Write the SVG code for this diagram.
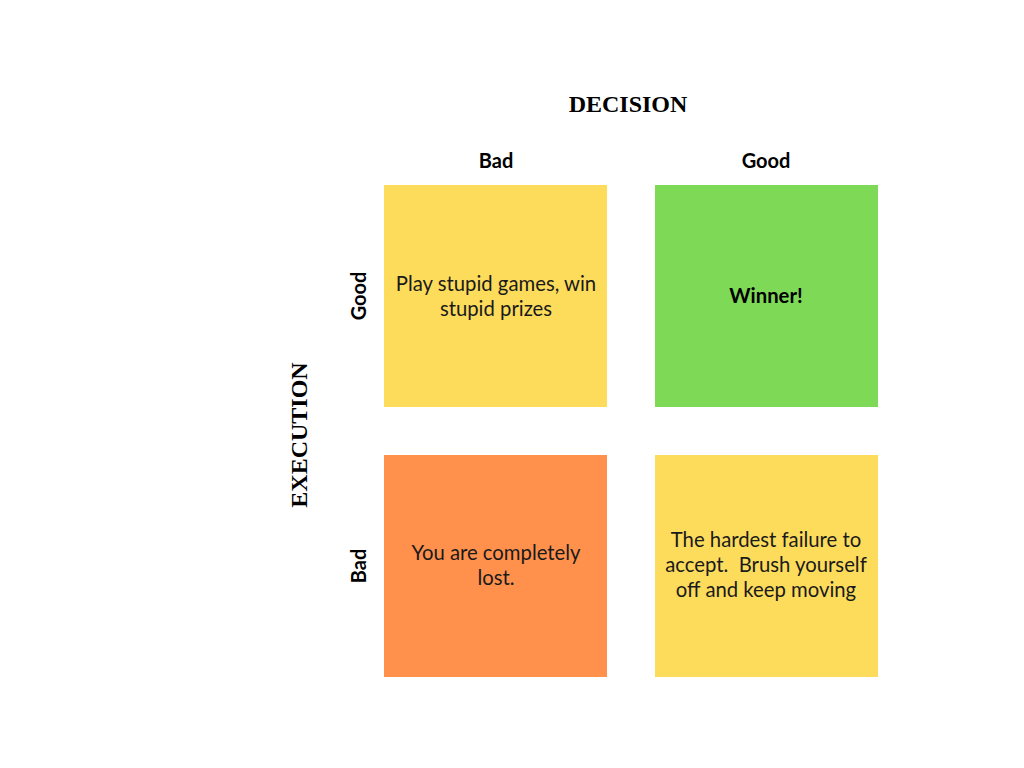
<svg xmlns="http://www.w3.org/2000/svg" width="1024" height="768" viewBox="0 0 1024 768">
<style>
.axis{font-family:"Liberation Serif","DejaVu Serif",serif;font-weight:bold;font-size:24px;fill:#000;text-anchor:middle}
.lbl{font-family:Lato,"Noto Sans",sans-serif;font-weight:bold;font-size:20px;fill:#000;text-anchor:middle}
.txt{font-family:Lato,"Noto Sans",sans-serif;font-size:20.3px;fill:#1a1a1a;text-anchor:middle}
.bold{font-weight:bold;fill:#000}
</style>
<rect width="1024" height="768" fill="#fff"/>
<text class="axis" x="628" y="112">DECISION</text>
<text class="axis" transform="translate(307,435) rotate(-90)">EXECUTION</text>
<text class="lbl" x="496" y="168">Bad</text>
<text class="lbl" x="766" y="168">Good</text>
<text class="lbl" transform="translate(366,296) rotate(-90)">Good</text>
<text class="lbl" transform="translate(366,566) rotate(-90)">Bad</text>
<g id="bad-good">
<rect x="384" y="185" width="223" height="222" fill="#FDDC5C"/>
<text class="txt" x="496" y="291">Play stupid games, win</text>
<text class="txt" x="496" y="316">stupid prizes</text>
</g>
<g id="good-good">
<rect x="655" y="185" width="223" height="222" fill="#7ED957"/>
<text class="txt bold" x="766" y="303">Winner!</text>
</g>
<g id="bad-bad">
<rect x="384" y="455" width="223" height="222" fill="#FF914D"/>
<text class="txt" x="496" y="560">You are completely</text>
<text class="txt" x="496" y="585">lost.</text>
</g>
<g id="good-bad">
<rect x="655" y="455" width="223" height="222" fill="#FDDC5C"/>
<text class="txt" x="766" y="547">The hardest failure to</text>
<text class="txt" x="766" y="572" xml:space="preserve">accept.  Brush yourself</text>
<text class="txt" x="766" y="597">off and keep moving</text>
</g>
<g id="connectors"/>
</svg>
